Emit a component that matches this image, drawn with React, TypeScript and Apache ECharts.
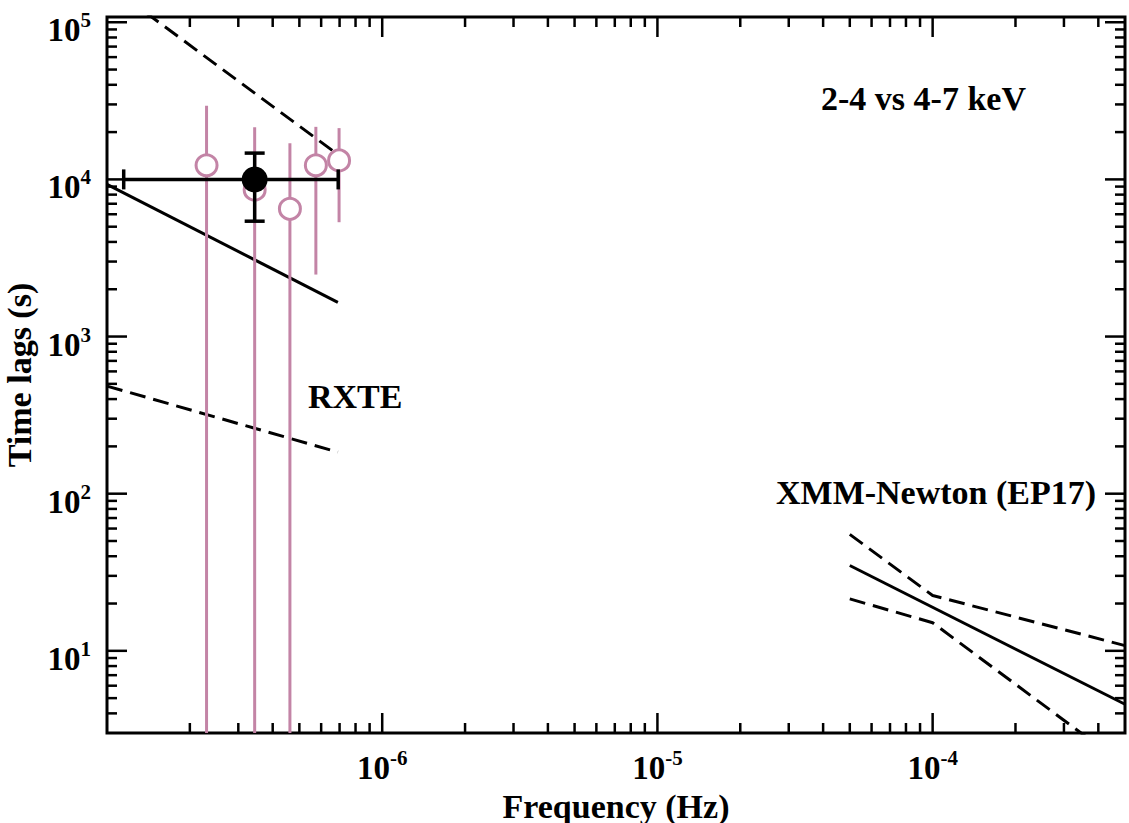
import React, { useEffect, useRef } from 'react';
import * as echarts from 'echarts';

// ---------- data ----------
// RXTE individual lag measurements (open pink circles)
const rxteFreq = [2.3e-7, 3.44e-7, 4.62e-7, 5.74e-7, 6.97e-7];
const rxteLag = [1.23e4, 8.6e3, 6.5e3, 1.23e4, 1.32e4];
const rxteLagHigh = [2.94e4, 2.15e4, 1.7e4, 2.16e4, 2.12e4];
const rxteLagLow = [1, 1, 1, 2.48e3, 5.34e3];

// RXTE averaged lag (filled black point)
const meanFreq = [3.44e-7];
const meanLag = [1.0e4];
const meanFreqLow = [1.15e-7];
const meanFreqHigh = [6.92e-7];
const meanLagLow = [5.42e3];
const meanLagHigh = [1.47e4];

// RXTE model lines
const rxteModelFreq = [1e-7, 6.9e-7];
const rxteModelLag = [9.3e3, 1.65e3];
const rxteUpperLag = [1.75e5, 1.44e4];
const rxteLowerLag = [484, 184];

// XMM-Newton (EP17) model lines
const xmmModelFreq = [5e-5, 5e-4];
const xmmModelLag = [34.9, 4.57];
const xmmBandFreq = [5e-5, 1e-4, 5e-4];
const xmmUpperLag = [55.1, 22.5, 10.8];
const xmmLowerLag = [21.4, 15.1, 1.86];

// axis ticks
const xLabelExponents = [-6, -5, -4];
const yLabelExponents = [1, 2, 3, 4, 5];
const xMajorTicks = [1e-6, 1e-5, 1e-4];
const xMinorTicks = [
  2e-7, 3e-7, 4e-7, 5e-7, 6e-7, 7e-7, 8e-7, 9e-7,
  2e-6, 3e-6, 4e-6, 5e-6, 6e-6, 7e-6, 8e-6, 9e-6,
  2e-5, 3e-5, 4e-5, 5e-5, 6e-5, 7e-5, 8e-5, 9e-5,
  2e-4, 3e-4, 4e-4,
];
const yMajorTicks = [10, 100, 1000, 10000, 100000];
const yMinorTicks = [
  4, 5, 6, 7, 8, 9,
  20, 30, 40, 50, 60, 70, 80, 90,
  200, 300, 400, 500, 600, 700, 800, 900,
  2000, 3000, 4000, 5000, 6000, 7000, 8000, 9000,
  20000, 30000, 40000, 50000, 60000, 70000, 80000, 90000,
];

const FONT = '"Liberation Serif", "Times New Roman", serif';
const PINK = '#c384a6';
const BLACK = '#000';

const expLabel = (exps: number[]) => (v: number) => {
  const e = Math.log10(v);
  const r = Math.round(e);
  if (Math.abs(e - r) > 1e-6 || !exps.includes(r)) return '';
  return `{b|10}{s|${r}}`;
};

const richLabel = {
  b: { fontFamily: FONT, fontWeight: 'bold', fontSize: 33, lineHeight: 33, color: BLACK, padding: [8, 0, 0, 0] },
  s: { fontFamily: FONT, fontWeight: 'bold', fontSize: 21, lineHeight: 21, color: BLACK, verticalAlign: 'top' },
};

const tickSeries = (values: number[], axis: 'x' | 'y', len: number) => ({
  type: 'custom',
  silent: true,
  z: 10,
  data: values.map((v) => (axis === 'x' ? [v, 10] : [1e-5, v])),
  renderItem: (params: any, api: any) => {
    const cs = params.coordSys;
    const style = { stroke: BLACK, lineWidth: 2.5 };
    if (axis === 'x') {
      const px = api.coord([api.value(0), api.value(1)])[0];
      const b = cs.y + cs.height;
      return {
        type: 'group',
        children: [
          { type: 'line', shape: { x1: px, y1: b, x2: px, y2: b - len }, style },
          { type: 'line', shape: { x1: px, y1: cs.y, x2: px, y2: cs.y + len }, style },
        ],
      };
    }
    const py = api.coord([api.value(0), api.value(1)])[1];
    const r = cs.x + cs.width;
    return {
      type: 'group',
      children: [
        { type: 'line', shape: { x1: cs.x, y1: py, x2: cs.x + len, y2: py }, style },
        { type: 'line', shape: { x1: r, y1: py, x2: r - len, y2: py }, style },
      ],
    };
  },
});

const lineSeries = (xs: number[], ys: number[], dashed: boolean) => ({
  type: 'line',
  data: xs.map((x, i) => [x, ys[i]]),
  symbol: 'none',
  showSymbol: false,
  clip: true,
  silent: true,
  z: 2,
  lineStyle: { color: BLACK, width: 3, type: dashed ? [16, 8] : 'solid' },
});

export default function App() {
  const ref = useRef<HTMLDivElement>(null);

  useEffect(() => {
    if (!ref.current) return;
    const chart = echarts.init(ref.current, undefined, { renderer: 'svg' });

    const option: any = {
      animation: false,
      backgroundColor: '#fff',
      grid: {
        left: 107,
        right: 4,
        top: 17,
        bottom: 90,
        show: true,
        borderColor: BLACK,
        borderWidth: 3,
        backgroundColor: 'transparent',
        containLabel: false,
        outerBoundsMode: 'none',
      },
      xAxis: {
        type: 'log',
        logBase: 10,
        min: 1e-7,
        max: 5e-4,
        name: 'Frequency (Hz)',
        nameLocation: 'middle',
        nameGap: 56,
        nameTextStyle: { fontFamily: FONT, fontWeight: 'bold', fontSize: 34, color: BLACK },
        axisLine: { show: false },
        axisTick: { show: false },
        minorTick: { show: false },
        splitLine: { show: false },
        axisLabel: {
          margin: 14,
          formatter: expLabel(xLabelExponents),
          rich: richLabel,
          showMinLabel: true,
          showMaxLabel: true,
        },
      },
      yAxis: {
        type: 'log',
        logBase: 10,
        min: 3,
        max: 1.08e5,
        name: 'Time lags (s)',
        nameLocation: 'middle',
        nameGap: 62,
        nameTextStyle: { fontFamily: FONT, fontWeight: 'bold', fontSize: 34, color: BLACK },
        axisLine: { show: false },
        axisTick: { show: false },
        minorTick: { show: false },
        splitLine: { show: false },
        axisLabel: {
          margin: 16,
          formatter: expLabel(yLabelExponents),
          rich: richLabel,
          padding: [8, 0, 0, 0],
        },
      },
      graphic: [
        {
          type: 'text',
          x: 821,
          y: 98,
          style: { text: '2-4 vs 4-7 keV', font: `bold 34px ${FONT}`, fill: BLACK, textVerticalAlign: 'middle' },
        },
        {
          type: 'text',
          x: 308,
          y: 396,
          style: { text: 'RXTE', font: `bold 34px ${FONT}`, fill: BLACK, textVerticalAlign: 'middle' },
        },
        {
          type: 'text',
          x: 776,
          y: 492,
          style: { text: 'XMM-Newton (EP17)', font: `bold 34px ${FONT}`, fill: BLACK, textVerticalAlign: 'middle' },
        },
      ],
      series: [
        lineSeries(rxteModelFreq, rxteModelLag, false),
        lineSeries(rxteModelFreq, rxteUpperLag, true),
        lineSeries(rxteModelFreq, rxteLowerLag, true),
        lineSeries(xmmModelFreq, xmmModelLag, false),
        lineSeries(xmmBandFreq, xmmUpperLag, true),
        lineSeries(xmmBandFreq, xmmLowerLag, true),
        {
          type: 'custom',
          silent: true,
          z: 3,
          data: rxteFreq.map((f, i) => [f, rxteLag[i], rxteLagLow[i], rxteLagHigh[i]]),
          renderItem: (params: any, api: any) => {
            const cs = params.coordSys;
            const top = api.coord([api.value(0), api.value(3)]);
            const bot = api.coord([api.value(0), api.value(2)]);
            const y2 = Math.min(bot[1], cs.y + cs.height);
            const y1 = Math.max(top[1], cs.y);
            return {
              type: 'line',
              shape: { x1: top[0], y1, x2: top[0], y2 },
              style: { stroke: PINK, lineWidth: 3 },
            };
          },
        },
        {
          type: 'scatter',
          silent: true,
          z: 4,
          data: rxteFreq.map((f, i) => [f, rxteLag[i]]),
          symbol: 'circle',
          symbolSize: 21,
          itemStyle: { color: '#fff', borderColor: PINK, borderWidth: 3, opacity: 1 },
        },
        {
          type: 'custom',
          silent: true,
          z: 6,
          data: meanFreq.map((f, i) => [f, meanLag[i], meanFreqLow[i], meanFreqHigh[i], meanLagLow[i], meanLagHigh[i]]),
          renderItem: (params: any, api: any) => {
            const c = api.coord([api.value(0), api.value(1)]);
            const l = api.coord([api.value(2), api.value(1)]);
            const r = api.coord([api.value(3), api.value(1)]);
            const lo = api.coord([api.value(0), api.value(4)]);
            const hi = api.coord([api.value(0), api.value(5)]);
            const style = { stroke: BLACK, lineWidth: 3.5 };
            const cap = 10;
            return {
              type: 'group',
              children: [
                { type: 'line', shape: { x1: l[0], y1: c[1], x2: r[0], y2: c[1] }, style },
                { type: 'line', shape: { x1: l[0], y1: c[1] - cap, x2: l[0], y2: c[1] + cap }, style },
                { type: 'line', shape: { x1: r[0], y1: c[1] - cap, x2: r[0], y2: c[1] + cap }, style },
                { type: 'line', shape: { x1: c[0], y1: lo[1], x2: c[0], y2: hi[1] }, style },
                { type: 'line', shape: { x1: c[0] - cap, y1: lo[1], x2: c[0] + cap, y2: lo[1] }, style },
                { type: 'line', shape: { x1: c[0] - cap, y1: hi[1], x2: c[0] + cap, y2: hi[1] }, style },
                { type: 'circle', shape: { cx: c[0], cy: c[1], r: 13 }, style: { fill: BLACK } },
              ],
            };
          },
        },
        tickSeries(xMajorTicks, 'x', 20),
        tickSeries(xMinorTicks, 'x', 10),
        tickSeries(yMajorTicks, 'y', 20),
        tickSeries(yMinorTicks, 'y', 10),
      ],
    };

    chart.setOption(option);
    return () => chart.dispose();
  }, []);

  return (
    <div
      ref={ref}
      style={{ position: 'absolute', left: 0, top: 0, width: 1129, height: 823, background: '#fff' }}
    />
  );
}
